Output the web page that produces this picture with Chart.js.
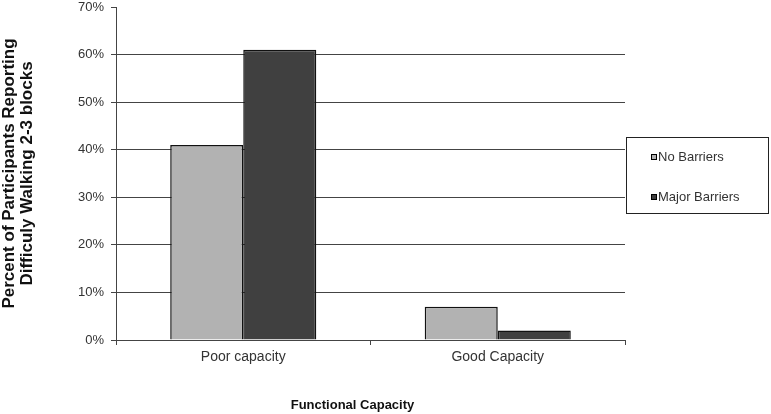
<!DOCTYPE html>
<html>
<head>
<meta charset="utf-8">
<script src="https://cdn.jsdelivr.net/npm/chart.js@4/dist/chart.umd.min.js"></script>
<style>
  body { margin: 0; background: #fff; }
</style>
</head>
<body>
<canvas id="chart" width="771" height="414"></canvas>
<script>
const categories = ["Poor capacity", "Good Capacity"];
const noBarriers = [41, 7];
const majorBarriers = [61, 2];
const seriesNames = ["No Barriers", "Major Barriers"];

// draws the boxed legend and the x title
const extras = {
    id: "extras",
    afterDraw(chart) {
        const ctx = chart.ctx;
        const area = chart.chartArea;
        ctx.save();
        ctx.strokeStyle = "#222";
        ctx.lineWidth = 1;
        ctx.strokeRect(626.5, 137.5, 142, 76);
        ctx.font = "13px 'Liberation Sans', Arial, sans-serif";
        ctx.textBaseline = "middle";
        chart.data.datasets.forEach((ds, i) => {
            let y = 157 + i * 40;
            ctx.fillStyle = ds.backgroundColor;
            ctx.fillRect(651, y - 3, 6, 6);
            ctx.strokeStyle = "#000";
            ctx.strokeRect(651.5, y - 2.5, 5, 5);
            ctx.fillStyle = "#333";
            ctx.fillText(ds.label, 658, y);
        });
        ctx.font = "bold 13px 'Liberation Sans', Arial, sans-serif";
        ctx.fillStyle = "#111";
        ctx.textAlign = "center";
        ctx.fillText("Functional Capacity", (area.left + area.right) / 2 - 18, 405);
        ctx.restore();
    }
};

new Chart(document.getElementById("chart"), {
    type: "bar",
    data: {
        labels: categories,
        datasets: [{
            label: seriesNames[0],
            data: noBarriers,
            backgroundColor: "#b2b2b2",
            borderColor: "#111",
            borderWidth: 1.5,
        }, {
            label: seriesNames[1],
            data: majorBarriers,
            backgroundColor: "#404040",
            borderColor: "#111",
            borderWidth: 1.5,
        }]
    },
    options: {
        responsive: false,
        animation: false,
        layout: { padding: { top: 7, right: 146, left: 0, bottom: 0 } },
        plugins: {
            legend: { display: false },
            tooltip: { enabled: false }
        },
        datasets: {
            bar: { categoryPercentage: 0.574, barPercentage: 1.0 }
        },
        scales: {
            x: {
                afterFit: scale => { scale.height = 74; },
                grid: {
                    drawOnChartArea: false,
                    offset: true,
                    tickLength: 5,
                    tickColor: "#444",
                },
                border: { color: "#444", width: 1 },
                ticks: {
                    padding: 4,
                    color: "#333",
                    font: { family: "'Liberation Sans', Arial, sans-serif", size: 14 }
                }
            },
            y: {
                min: 0,
                max: 70,
                afterFit: scale => {
                    scale.width = 116;
                    scale.paddingTop = 0;
                    scale.paddingBottom = 0;
                },
                grid: {
                    color: c => (c.tick && c.tick.value === 70 ? "rgba(0,0,0,0)" : "#444"),
                    tickColor: "#444",
                    tickLength: 5,
                },
                border: { color: "#444", width: 1 },
                ticks: {
                    stepSize: 10,
                    padding: 7,
                    color: "#333",
                    font: { family: "'Liberation Sans', Arial, sans-serif", size: 13 },
                    callback: v => v + "%"
                },
                title: {
                    display: true,
                    text: ["Percent of Participants Reporting", "Difficuly Walking 2-3 blocks"],
                    color: "#111",
                    padding: 0,
                    font: { family: "'Liberation Sans', Arial, sans-serif", size: 17, weight: "bold", lineHeight: 1.08 }
                }
            }
        }
    },
    plugins: [extras]
});
</script>
</body>
</html>
